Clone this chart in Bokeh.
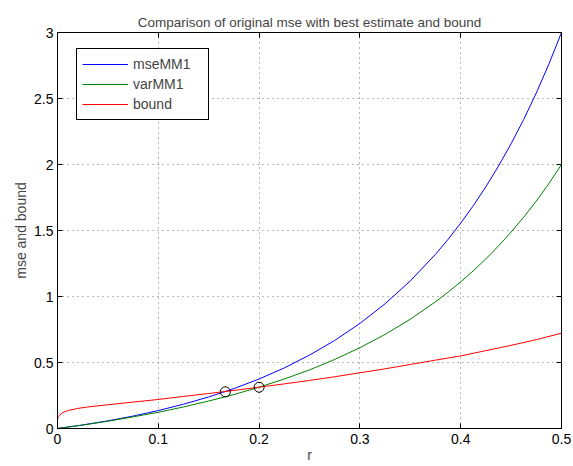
from bokeh.plotting import figure
from bokeh.models import Range1d, LinearAxis, FixedTicker
from bokeh.embed import file_html
from bokeh.resources import INLINE

# values
r = [0.0, 0.025, 0.05, 0.075, 0.1, 0.125, 0.15, 0.175, 0.2, 0.225, 0.25,
     0.275, 0.3, 0.325, 0.35, 0.375, 0.3875, 0.4, 0.4125, 0.425, 0.4375,
     0.45, 0.4625, 0.475, 0.4875, 0.5]
mseMM1 = [0.0, 0.027, 0.058, 0.094, 0.136, 0.184, 0.239, 0.302, 0.375, 0.459, 0.556,
          0.667, 0.796, 0.945, 1.118, 1.320, 1.433, 1.556, 1.688, 1.832, 1.988,
          2.157, 2.341, 2.542, 2.761, 3.0]
varMM1 = [0.0, 0.026, 0.055, 0.088, 0.123, 0.163, 0.208, 0.257, 0.313, 0.375, 0.444,
          0.523, 0.612, 0.713, 0.828, 0.960, 1.033, 1.111, 1.195, 1.285, 1.383,
          1.488, 1.601, 1.723, 1.856, 2.0]
r_bound = [0.0, 0.001, 0.002, 0.005, 0.01, 0.02, 0.03, 0.05, 0.075, 0.1, 0.125, 0.15,
           0.175, 0.2, 0.225, 0.25, 0.275, 0.3, 0.325, 0.35, 0.375, 0.4, 0.425,
           0.45, 0.475, 0.5]
bound = [0.07, 0.09, 0.10, 0.12, 0.135, 0.152, 0.163, 0.18, 0.20, 0.22, 0.243, 0.265,
         0.288, 0.313, 0.338, 0.364, 0.392, 0.422, 0.452, 0.485, 0.518, 0.55, 0.59,
         0.63, 0.673, 0.722]
cross_r = [0.1665, 0.2]
cross_v = [0.278, 0.3125]

x_ticks = [0, 0.1, 0.2, 0.3, 0.4, 0.5]
x_tick_labels = ["0", "0.1", "0.2", "0.3", "0.4", "0.5"]
y_ticks = [0, 0.5, 1, 1.5, 2, 2.5, 3]
y_tick_labels = ["0", "0.5", "1", "1.5", "2", "2.5", "3"]

FONT = "Liberation Sans"

p = figure(width=573, height=466, output_backend="svg", toolbar_location=None,
           x_range=Range1d(0, 0.5), y_range=Range1d(0, 3),
           title="Comparison of original mse with best estimate and bound",
           min_border_left=57, min_border_right=12, min_border_top=32, min_border_bottom=38)

p.title.align = "center"
p.title.text_font = FONT
p.title.text_font_size = "13.5px"
p.title.text_font_style = "normal"
p.title.standoff = 6

p.outline_line_color = "black"
p.outline_line_width = 1

def style_axis(ax, ticks, labels, show_labels=True):
    ax.ticker = FixedTicker(ticks=ticks)
    ax.major_tick_in = 5
    ax.major_tick_out = 0
    ax.minor_tick_line_color = None
    ax.axis_line_color = "black"
    ax.major_tick_line_color = "black"
    ax.major_label_text_font = FONT
    ax.major_label_text_font_size = "14px"
    ax.major_label_text_color = "black"
    ax.axis_label_text_font = FONT
    ax.axis_label_text_font_size = "14px"
    ax.axis_label_text_font_style = "normal"
    if show_labels:
        ax.major_label_overrides = {t: l for t, l in zip(ticks, labels)}
    else:
        ax.major_label_overrides = {t: "" for t in ticks}
        ax.major_label_standoff = 0

style_axis(p.xaxis[0], x_ticks, x_tick_labels)
style_axis(p.yaxis[0], y_ticks, y_tick_labels)
p.xaxis[0].axis_label = "r"
p.xaxis[0].major_label_standoff = 5
p.xaxis[0].axis_label_standoff = 0
p.yaxis[0].axis_label = "mse and bound"
p.yaxis[0].major_label_standoff = 4
p.yaxis[0].axis_label_standoff = 2

top_ax = LinearAxis()
style_axis(top_ax, x_ticks, x_tick_labels, show_labels=False)
p.add_layout(top_ax, "above")
right_ax = LinearAxis()
style_axis(right_ax, y_ticks, y_tick_labels, show_labels=False)
p.add_layout(right_ax, "right")

p.xgrid.ticker = FixedTicker(ticks=x_ticks)
p.ygrid.ticker = FixedTicker(ticks=y_ticks)
for g in (p.xgrid[0], p.ygrid[0]):
    g.grid_line_color = "#333333"
    g.grid_line_alpha = 0.7
    g.grid_line_dash = "1 4"
    g.grid_line_width = 1

p.line(r, mseMM1, line_color="#0000ff", line_width=1, legend_label="mseMM1")
p.line(r, varMM1, line_color="#008000", line_width=1, legend_label="varMM1")
p.line(r_bound, bound, line_color="#ff0000", line_width=1, legend_label="bound")
p.scatter(cross_r, cross_v, marker="circle", size=10, fill_color=None,
          line_color="black", line_width=1)

legend = p.legend[0]
legend.location = (19, 308)
legend.border_line_color = "black"
legend.border_line_width = 1
legend.border_line_alpha = 1
legend.margin = 0
legend.padding = 5
legend.spacing = 0
legend.glyph_width = 46
legend.glyph_height = 20
legend.label_height = 20
legend.label_width = 70
legend.label_standoff = 5
legend.label_text_font = FONT
legend.label_text_font_size = "14px"
legend.background_fill_color = "white"

open("out.html", "w").write(file_html(p, INLINE))
